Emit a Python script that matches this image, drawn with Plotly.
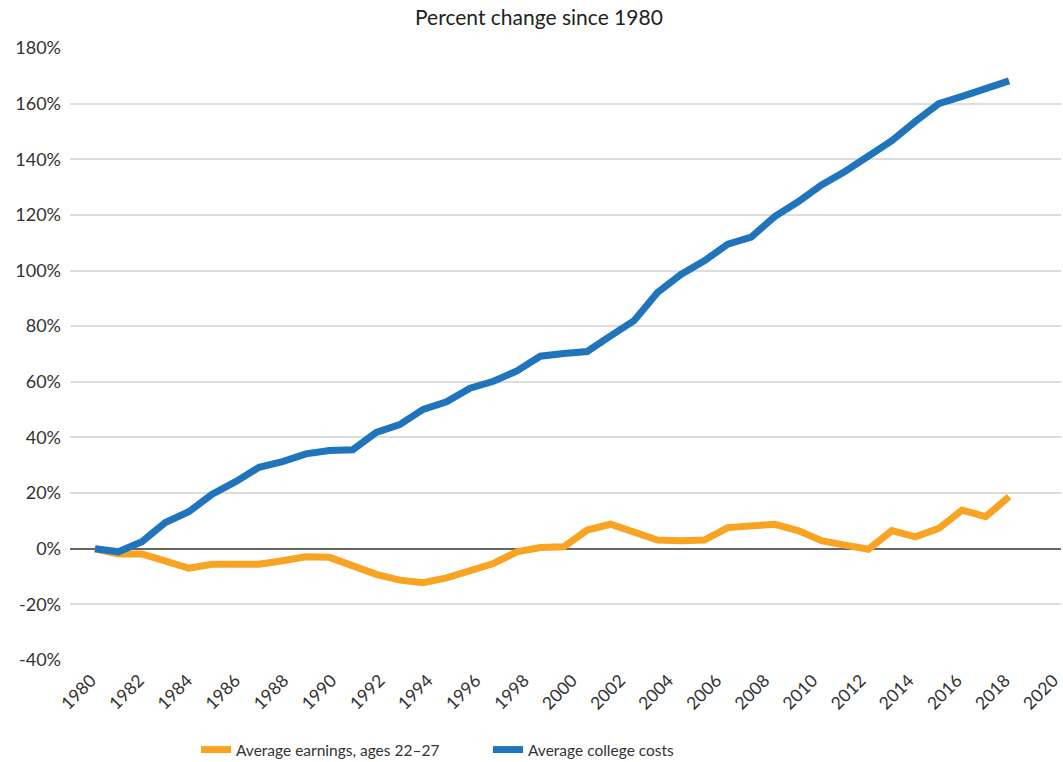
import numpy as np
import plotly.graph_objects as go

# 40 observations spanning 1980 to 2018 (as plotted in the reference)
years = np.linspace(1980, 2018, 40)

earnings = [0.0, -1.9, -1.9, -4.4, -7.0, -5.6, -5.6, -5.6, -4.3, -2.9,
            -3.1, -6.1, -9.2, -11.3, -12.2, -10.5, -7.7, -5.3, -1.1, 0.4,
            0.7, 6.7, 8.8, 6.1, 3.1, 2.9, 3.1, 7.6, 8.5, 8.8,
            6.5, 2.9, 1.3, -0.2, 6.5, 4.3, 7.3, 13.9, 11.5, 18.7]

college = [0.0, -1.1, 2.5, 9.4, 13.3, 19.6, 24.1, 29.3, 31.3, 34.1,
           35.3, 35.6, 41.8, 44.6, 50.1, 52.8, 57.7, 60.2, 63.9, 69.2,
           70.2, 70.9, 76.5, 82.0, 92.1, 98.6, 103.5, 109.5, 112.0, 119.4,
           124.7, 130.8, 135.6, 141.0, 146.7, 153.6, 160.0, 162.6, 165.2, 168.2]

x_ticks = list(range(1980, 2021, 2))
y_ticks = list(range(-40, 181, 20))
y_ticktext = [f"{v}%" for v in y_ticks]

ORANGE = "#f9a322"
BLUE = "#1f74bb"
FONT = "Lato"
TEXT = "#333333"

fig = go.Figure()
fig.add_trace(go.Scatter(x=years, y=earnings, mode="lines",
                         name="Average earnings, ages 22\u201327",
                         line=dict(color=ORANGE, width=7)))
fig.add_trace(go.Scatter(x=years, y=college, mode="lines",
                         name="Average college costs",
                         line=dict(color=BLUE, width=7)))

fig.update_layout(
    width=1063, height=762,
    margin=dict(l=70, r=2, t=48, b=102, autoexpand=False),
    paper_bgcolor="white", plot_bgcolor="white",
    font=dict(family=FONT, size=17, color=TEXT),
    title=dict(text="Percent change since 1980", x=0.507, xref="container",
               xanchor="center", y=1 - 18 / 762, yref="container",
               yanchor="middle", font=dict(family=FONT, size=21, color="#222222")),
    legend=dict(orientation="h", x=196 / 1063, xref="container", xanchor="left",
                y=1 - 750 / 762, yref="container", yanchor="middle",
                font=dict(family=FONT, size=15.5, color=TEXT),
                entrywidth=247, itemwidth=30, traceorder="normal"),
    showlegend=True,
)
fig.update_xaxes(range=[1978.96, 2020.16], tickvals=x_ticks,
                 ticktext=[str(v) for v in x_ticks], tickangle=-45,
                 ticklabeloverflow="allow", ticklabelshift=-4,
                 ticklabelstandoff=6,
                 showgrid=False, zeroline=False, showline=False,
                 ticks="", tickfont=dict(family=FONT, size=17.5, color=TEXT))
fig.update_yaxes(range=[-40, 180], tickvals=y_ticks, ticktext=y_ticktext,
                 showgrid=True, gridcolor="#dddddd", gridwidth=1.5,
                 zeroline=True, zerolinecolor="#666666", zerolinewidth=2,
                 showline=False, ticks="", ticklabelstandoff=8,
                 tickfont=dict(family=FONT, size=18, color=TEXT))

fig.write_html("out.html", config={"displayModeBar": False},
               post_script="document.body.style.margin='0';document.body.style.overflow='hidden';")
